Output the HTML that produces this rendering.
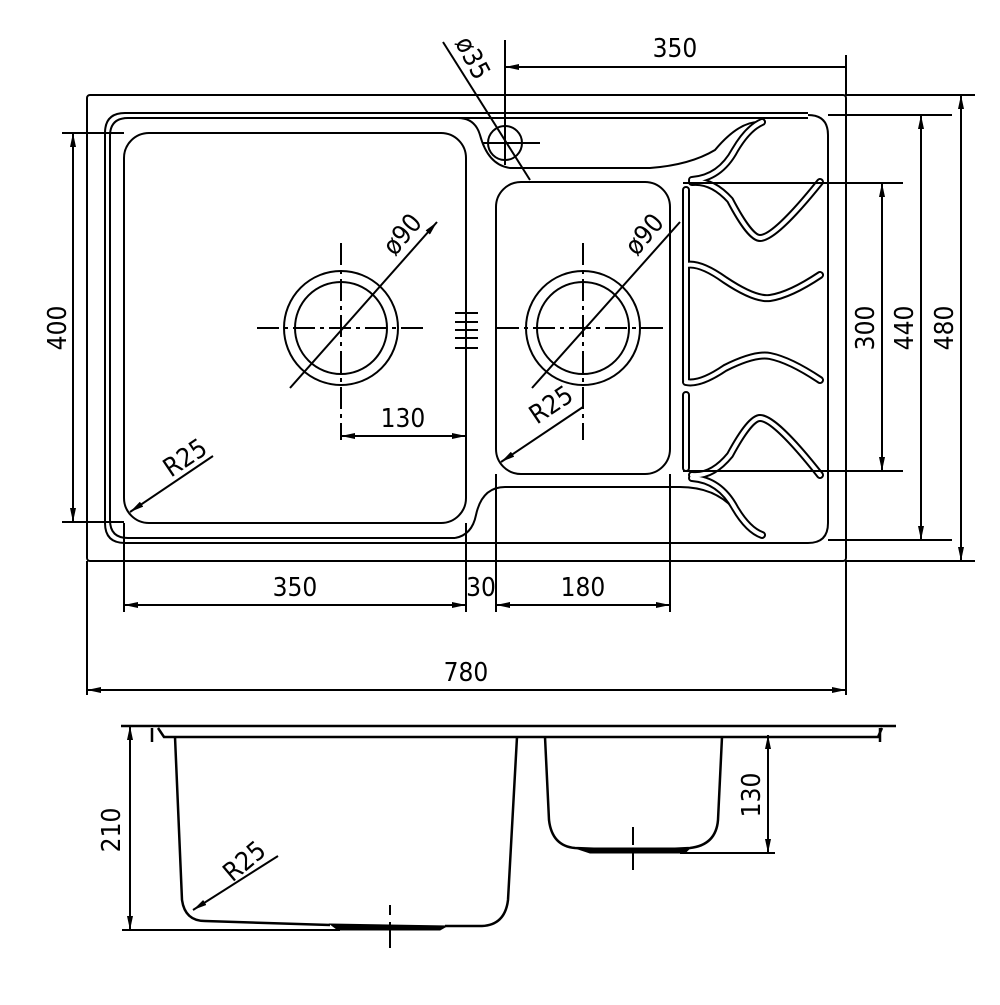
<!DOCTYPE html>
<html><head><meta charset="utf-8"><style>
html,body{margin:0;padding:0;background:#fff}
svg text{font-family:"DejaVu Sans Condensed","DejaVu Sans","Liberation Sans",sans-serif;font-size:26px;fill:#000}
</style></head><body>
<svg width="1000" height="1000" viewBox="0 0 1000 1000" xmlns="http://www.w3.org/2000/svg">
<defs>
<marker id="a" viewBox="0 0 14 6" refX="14" refY="3" markerWidth="14" markerHeight="6" orient="auto-start-reverse" markerUnits="userSpaceOnUse"><path d="M0,0 L14,3 L0,6z" fill="#000"/></marker>
</defs>
<g fill="none" stroke="#000" stroke-width="2">
<rect x="87" y="95" width="759" height="466" rx="3"/>
<path d="M808,113 L125,113 Q105,113 105,133 L105,523 Q105,543 125,543 L808,543 Q828,543 828,523 L828,135 Q828,115 808,115"/>
<path d="M458,118 L128,118 Q110,118 110,136 L110,520 Q110,538 128,538 L455,538"/>
<path d="M458,118 Q475,118 480,135 Q488,165 510,168 L650,168 Q690,165 715,150 Q740,120 762,122"/>
<path d="M458,118 L808,118"/>
<rect x="124" y="133" width="342" height="390" rx="25"/>
<rect x="496" y="182" width="174" height="292" rx="25"/>
<path d="M455,538 Q472,535 476,515 Q482,487 505,487 L680,487 Q715,487 735,510 Q750,535 762,535"/>
<circle cx="341" cy="328" r="57"/><circle cx="341" cy="328" r="46"/>
<circle cx="583" cy="328" r="57"/><circle cx="583" cy="328" r="46"/>
<circle cx="505" cy="143" r="17" fill="#fff"/>
</g>
<g fill="none" stroke-linecap="round" stroke-linejoin="round">
<g stroke="#000" stroke-width="8">
<path d="M692,182 Q712,180 730,200 Q750,238 760,238 Q775,238 820,182"/>
<path d="M686,265 Q700,262 725,280 Q755,300 770,298 Q790,295 820,275"/>
<path d="M686,382 Q700,385 725,368 Q755,353 770,356 Q790,360 820,380"/>
<path d="M692,475 Q712,477 730,455 Q750,418 760,418 Q775,418 820,475"/>
<path d="M692,180 Q720,178 735,150 Q748,128 762,122"/>
<path d="M692,478 Q720,480 735,508 Q748,530 762,535"/>
<path d="M686,190 L686,380 M686,395 L686,468"/>
</g>
<g stroke="#fff" stroke-width="4">
<path d="M692,182 Q712,180 730,200 Q750,238 760,238 Q775,238 820,182"/>
<path d="M686,265 Q700,262 725,280 Q755,300 770,298 Q790,295 820,275"/>
<path d="M686,382 Q700,385 725,368 Q755,353 770,356 Q790,360 820,380"/>
<path d="M692,475 Q712,477 730,455 Q750,418 760,418 Q775,418 820,475"/>
<path d="M692,180 Q720,178 735,150 Q748,128 762,122"/>
<path d="M692,478 Q720,480 735,508 Q748,530 762,535"/>
<path d="M686,190 L686,380 M686,395 L686,468"/>
</g>
</g>
<g stroke="#000" stroke-width="2" stroke-dasharray="22,5,4,5" fill="none">
<path d="M257,328 H425 M341,243 V440 M497,328 H668 M583,243 V440"/>
</g>
<g stroke="#000" stroke-width="2" fill="none">
<path d="M483,143 H540 M505,100 V165"/>
<path d="M455,313 H478 M455,322 H478 M455,330 H478 M455,338 H478 M455,348 H478"/>
<path d="M437,222 L290,388" marker-start="url(#a)"/>
<path d="M680,222 L532,388"/>
<path d="M443,42 L530,180"/>
<path d="M213,456 L130,512" marker-end="url(#a)"/>
<path d="M583,407 L501,462" marker-end="url(#a)"/>
<path d="M505,40 V100"/>
<path d="M846,67 L505,67" marker-end="url(#a)"/>
<path d="M846,55 V95"/>
<path d="M846,95 H975 M828,115 H952 M683,183 H903 M683,471 H903 M828,540 H952 M846,561 H975"/>
<path d="M882,183 V471" marker-start="url(#a)" marker-end="url(#a)"/>
<path d="M921,115 V540" marker-start="url(#a)" marker-end="url(#a)"/>
<path d="M961,95 V561" marker-start="url(#a)" marker-end="url(#a)"/>
<path d="M62,133 H124 M62,522 H124"/>
<path d="M73,133 V522" marker-start="url(#a)" marker-end="url(#a)"/>
<path d="M341,436 H466" marker-start="url(#a)" marker-end="url(#a)"/>
<path d="M124,523 V612 M466,523 V612 M496,474 V612 M670,474 V612"/>
<path d="M124,605 H466" marker-start="url(#a)" marker-end="url(#a)"/>
<path d="M496,605 H670" marker-start="url(#a)" marker-end="url(#a)"/>
<path d="M87,561 V695 M846,561 V695"/>
<path d="M87,690 H846" marker-start="url(#a)" marker-end="url(#a)"/>
</g>
<g stroke="#000" stroke-width="2.5" fill="none">
<path d="M121,726 H896"/>
<path d="M158,728 L164,737 H878 L882,728"/>
<path d="M152,728 V742 M880,728 V742"/>
<path d="M175,737 L182,900 Q185,921 205,921 L330,925 M445,926 L482,926 Q505,925 508,900 L517,737"/>
<path d="M545,737 L549,820 Q552,846 575,848 L600,849 M670,849 L690,848 Q716,845 718,820 L722,737"/>
</g>
<g stroke="#000" fill="#000">
<path d="M330,924 L447,926 L440,930 L338,930 Z" stroke-width="1"/>
<path d="M575,848 L690,848 L685,853 L590,853 Z" stroke-width="1"/>
</g>
<g stroke="#000" stroke-width="2" fill="none">
<path d="M390,905 V915 M390,922 V948"/>
<path d="M633,827 V845 M633,852 V870"/>
<path d="M122,930 H340 M680,853 H775"/>
<path d="M130,726 V930" marker-start="url(#a)" marker-end="url(#a)"/>
<path d="M768,735 V853" marker-start="url(#a)" marker-end="url(#a)"/>
<path d="M278,856 L193,910" marker-end="url(#a)"/>
</g>
<text x="675" y="57" text-anchor="middle">350</text>
<text x="466" y="681" text-anchor="middle">780</text>
<text x="295" y="596" text-anchor="middle">350</text>
<text x="481" y="596" text-anchor="middle">30</text>
<text x="583" y="596" text-anchor="middle">180</text>
<text x="403" y="427" text-anchor="middle">130</text>
<text transform="translate(874,328) rotate(-90)" text-anchor="middle">300</text>
<text transform="translate(913,328) rotate(-90)" text-anchor="middle">440</text>
<text transform="translate(953,328) rotate(-90)" text-anchor="middle">480</text>
<text transform="translate(66,328) rotate(-90)" text-anchor="middle">400</text>
<text transform="translate(409,240) rotate(-50)" text-anchor="middle">ø90</text>
<text transform="translate(651,240) rotate(-50)" text-anchor="middle">ø90</text>
<text transform="translate(465,62) rotate(62)" text-anchor="middle">ø35</text>
<text transform="translate(190,465) rotate(-34)" text-anchor="middle">R25</text>
<text transform="translate(556,412) rotate(-34)" text-anchor="middle">R25</text>
<text transform="translate(250,868) rotate(-40)" text-anchor="middle">R25</text>
<text transform="translate(120,830) rotate(-90)" text-anchor="middle">210</text>
<text transform="translate(760,795) rotate(-90)" text-anchor="middle">130</text>
</svg>
</body></html>
